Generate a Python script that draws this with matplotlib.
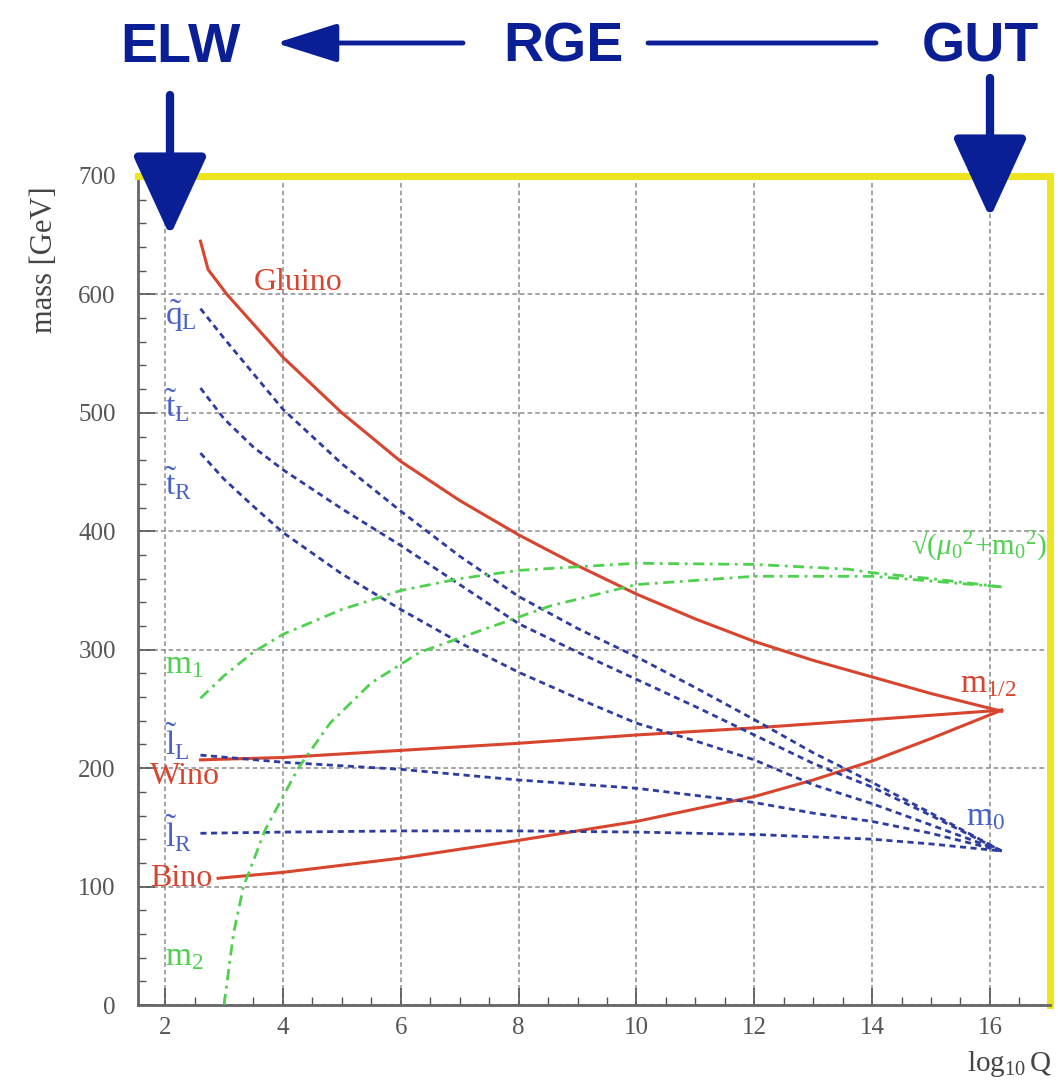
import numpy as np
import matplotlib
matplotlib.use("Agg")
import matplotlib.pyplot as plt
from matplotlib.patches import FancyArrowPatch
from matplotlib.ticker import MultipleLocator

# running masses vs log10(Q)
gluino_x = [2.6, 2.73, 3.05, 4, 5, 6, 7, 8, 9, 10, 11, 12, 13, 14, 15, 16.2]
gluino_y = [645, 621, 600, 547, 500, 459, 426, 397, 371, 347, 326, 307, 291, 277, 263, 248]

wino_x = [2.6, 4, 6, 8, 10, 12, 14, 16.2]
wino_y = [207, 209, 215, 221, 228, 234, 241, 249]

bino_x = [2.9, 4, 6, 8, 10, 12, 13, 14, 15, 16.2]
bino_y = [107, 112, 124, 139, 155, 176, 190, 206, 225, 249]

qL_x = [2.6, 3, 4, 5, 6, 7, 8, 9, 10, 11, 12, 13, 14, 15, 16.2]
qL_y = [588, 563, 503, 457, 417, 379, 345, 318, 294, 268, 241, 213, 188, 162, 130]

tL_x = [2.6, 3, 3.5, 4, 5, 6, 7, 8, 9, 10, 11, 12, 13, 14, 15, 16.2]
tL_y = [521, 495, 471, 452, 419, 388, 355, 322, 298, 275, 252, 228, 204, 184, 160, 130]

tR_x = [2.6, 3, 3.5, 4, 5, 6, 7, 8, 9, 10, 11, 12, 13, 14, 15, 16.2]
tR_y = [466, 444, 421, 399, 364, 334, 306, 281, 259, 238, 223, 207, 186, 170, 152, 130]

lL_x = [2.6, 4, 6, 8, 10, 12, 13, 14, 15, 16.2]
lL_y = [211, 205, 199, 190, 183, 171, 162, 155, 145, 130]

lR_x = [2.6, 4, 6, 8, 10, 12, 13, 14, 15, 16.2]
lR_y = [145, 146, 147, 147, 146, 144, 142, 140, 136, 130]

m1_x = [2.6, 3, 3.5, 4, 5, 6, 7, 8, 9, 10, 12, 13.6, 14, 15, 16.2]
m1_y = [259, 278, 298, 313, 334, 350, 360, 367, 370, 373, 372, 368, 365, 360, 353]

m2_x = [3.0, 3.16, 3.33, 3.7, 4.26, 4.8, 5.5, 6.33, 7.4, 8.54, 10, 12, 14, 15, 16.2]
m2_y = [0, 60, 100, 148, 200, 238, 272, 298, 317, 337, 355, 362, 362, 358, 353]

x_ticks = [2, 4, 6, 8, 10, 12, 14, 16]
y_ticks = [0, 100, 200, 300, 400, 500, 600, 700]

RED = "#d8452f"
BLUE = "#2c3ca0"
BLUE_TXT = "#4a62c6"
GREEN = "#4fd04f"
NAVY = "#0a1e96"

plt.rcParams["mathtext.fontset"] = "custom"
plt.rcParams["mathtext.rm"] = "Liberation Serif"
plt.rcParams["mathtext.it"] = "Liberation Serif:italic"

fig = plt.figure(figsize=(10.58, 10.84), dpi=100)
W, H = 1058, 1084


def fx(px):
    return px / W


def fy(py):
    return 1 - py / H


ax = fig.add_axes([fx(138), fy(1005), fx(1050) - fx(138), fy(176) - fy(1005)])
ax.set_xlim(1.54, 17.02)
ax.set_ylim(0, 700)

# grid
ax.set_xticks(x_ticks)
ax.set_yticks(y_ticks)
ax.xaxis.set_minor_locator(MultipleLocator(0.5))
ax.yaxis.set_minor_locator(MultipleLocator(20))
ax.grid(True, which="major", color="#8a8a8a", linestyle=(0, (3, 2)), lw=1.1, zorder=0)
ax.tick_params(which="both", direction="in", top=False, right=False, colors="#555555")
ax.tick_params(which="major", length=12, width=1.2, labelsize=18, pad=9)
ax.tick_params(which="minor", length=6, width=1.0)
ax.tick_params(axis="y", which="major", pad=16)
ax.set_yticklabels([str(v) for v in y_ticks])
for lab in ax.get_xticklabels() + ax.get_yticklabels():
    lab.set_family("Liberation Serif")
    lab.set_color("#555555")

for s in ["left", "bottom"]:
    ax.spines[s].set_color("#666666")
    ax.spines[s].set_linewidth(2)
for s in ["top", "right"]:
    ax.spines[s].set_color("#ece51e")
    ax.spines[s].set_linewidth(5)

# curves
ax.plot(gluino_x, gluino_y, color=RED, lw=2.2, zorder=3)
ax.plot(wino_x, wino_y, color=RED, lw=2.2, zorder=3)
ax.plot(bino_x, bino_y, color=RED, lw=2.2, zorder=3)
for xs, ys in [(qL_x, qL_y), (tL_x, tL_y), (tR_x, tR_y), (lL_x, lL_y), (lR_x, lR_y)]:
    ax.plot(xs, ys, color=BLUE, lw=2.0, linestyle=(0, (2.2, 1.6)), zorder=3)
for xs, ys in [(m1_x, m1_y), (m2_x, m2_y)]:
    ax.plot(xs, ys, color=GREEN, lw=2.0, linestyle=(0, (4, 2, 1, 2)), zorder=3)

# labels on the curves
serif = ["Liberation Serif", "DejaVu Serif"]
ax.text(3.5, 598, "Gluino", color=RED, fontsize=23, family=serif, va="bottom")
ax.text(1.74, 193, "Wino", color=RED, fontsize=23, family=serif, va="center")
ax.text(1.74, 107, "Bino", color=RED, fontsize=23, family=serif, va="center")
ax.text(15.5, 272, r"$\mathrm{m}_{\mathrm{1/2}}$", color=RED, fontsize=24, va="center")
ax.text(2.0, 582, r"$\tilde{\mathrm{q}}_{\mathrm{L}}$", color=BLUE_TXT, fontsize=24, va="center")
ax.text(2.0, 506, r"$\tilde{\mathrm{t}}_{\mathrm{L}}$", color=BLUE_TXT, fontsize=24, va="center")
ax.text(2.0, 440, r"$\tilde{\mathrm{t}}_{\mathrm{R}}$", color=BLUE_TXT, fontsize=24, va="center")
ax.text(2.0, 222, r"$\tilde{\mathrm{l}}_{\mathrm{L}}$", color=BLUE_TXT, fontsize=24, va="center")
ax.text(2.0, 145, r"$\tilde{\mathrm{l}}_{\mathrm{R}}$", color=BLUE_TXT, fontsize=24, va="center")
ax.text(15.6, 160, r"$\mathrm{m}_{\mathrm{0}}$", color=BLUE_TXT, fontsize=24, va="center")
ax.text(2.0, 288, r"$\mathrm{m}_{\mathrm{1}}$", color=GREEN, fontsize=24, va="center")
ax.text(2.0, 42, r"$\mathrm{m}_{\mathrm{2}}$", color=GREEN, fontsize=24, va="center")
ax.text(16.97, 388, "√" + r"$(\mu_0{}^2\!+\!\mathrm{m}_0{}^2)$", color=GREEN, fontsize=21,
        family=serif, ha="right", va="center")

# axis titles
fig.text(fx(45), fy(260), "mass [GeV]", rotation=90, fontsize=22, family=serif,
         color="#444444", ha="center", va="center")
fig.text(fx(1052), fy(1064), r"$\mathrm{log}_{\mathrm{10}}\,\mathrm{Q}$", fontsize=21,
         color="#444444", ha="right", va="center")

# RGE banner on top
for txt, cx in [("ELW", 180), ("RGE", 563), ("GUT", 980)]:
    fig.text(fx(cx), fy(48), txt, fontsize=40, fontweight="bold", family="Liberation Sans",
             color=NAVY, ha="center", va="center")

arrows = [
    ((463, 43), (276, 43), 3.5, "-|>,head_length=1.9,head_width=0.6"),
    ((648, 43), (876, 43), 3.5, "-"),
    ((170, 95), (170, 236), 6, "-|>,head_length=2.5,head_width=1.15"),
    ((990, 78), (990, 218), 6, "-|>,head_length=2.5,head_width=1.15"),
]
for (x0, y0), (x1, y1), lw, style in arrows:
    arr = FancyArrowPatch((fx(x0), fy(y0)), (fx(x1), fy(y1)), transform=fig.transFigure,
                          arrowstyle=style, mutation_scale=20, lw=lw, color=NAVY,
                          shrinkA=0, shrinkB=0, zorder=10)
    fig.add_artist(arr)

fig.savefig("out.png", dpi=100)
